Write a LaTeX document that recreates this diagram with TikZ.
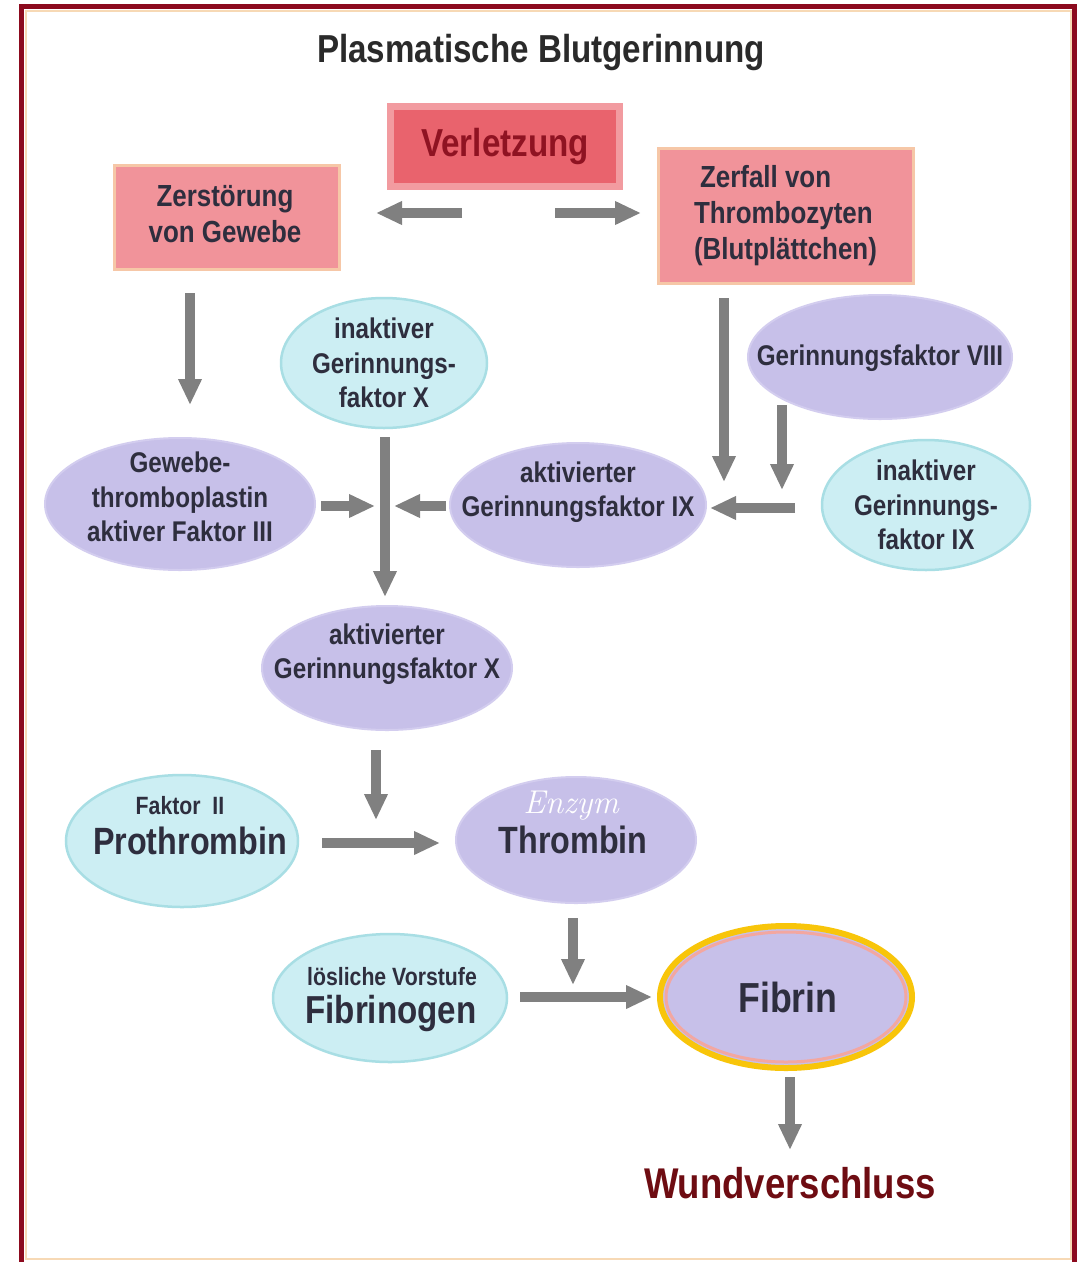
\documentclass[tikz,border=0pt]{standalone}
\usepackage{fontspec}
\setsansfont{Liberation Sans}[FakeStretch=0.85]
\usetikzlibrary{arrows.meta,shapes.geometric}
\definecolor{borderred}{HTML}{8C0A1E}
\definecolor{peach}{HTML}{F7D9B5}
\definecolor{pinkF}{HTML}{F1939A}
\definecolor{pinkB}{HTML}{F6C7A7}
\definecolor{verOuter}{HTML}{F29BA0}
\definecolor{verInner}{HTML}{E9636D}
\definecolor{verText}{HTML}{8F1322}
\definecolor{cyanF}{HTML}{CCEEF3}
\definecolor{cyanB}{HTML}{A8DEE4}
\definecolor{lavF}{HTML}{C7C0E9}
\definecolor{lavB}{HTML}{D3CDEF}
\definecolor{goldring}{HTML}{F8C50A}
\definecolor{fibring}{HTML}{F3A7A0}
\definecolor{arrowgray}{HTML}{808080}
\definecolor{titlec}{HTML}{2A2A2A}
\definecolor{txtc}{HTML}{2E2E3E}
\definecolor{wund}{HTML}{6E0C12}
\begin{document}
\begin{tikzpicture}[x=1pt,y=-1pt,
  arr/.style={draw=arrowgray, line width=10pt, -{Triangle[width=22pt,length=26pt]}},
  cyanell/.style={ellipse, draw=cyanB, fill=cyanF, line width=2.5pt, inner sep=0pt},
  lavell/.style={ellipse, draw=lavB, fill=lavF, line width=2pt, inner sep=0pt},
  pinkbox/.style={rectangle, draw=pinkB, fill=pinkF, line width=3pt, inner sep=0pt,
    text=txtc, font=\sffamily\bfseries\fontsize{30.5}{36}\selectfont},
  txt/.style={font=\sffamily\bfseries\fontsize{28.5}{34.5}\selectfont, text=txtc, align=center, inner sep=0pt},
  bigtxt/.style={font=\sffamily\bfseries\fontsize{38}{42}\selectfont, text=txtc, inner sep=0pt},
  smalltxt/.style={font=\sffamily\bfseries\fontsize{25}{30}\selectfont, text=txtc, inner sep=0pt}
]
\useasboundingbox (0,0) rectangle (1081,1262);
\fill[white] (0,0) rectangle (1081,1262);
% frame
\draw[borderred, line width=5pt] (21.5,1290) -- (21.5,6.5) -- (1074.5,6.5) -- (1074.5,1290);
\draw[peach, line width=2pt] (26,1258.5) -- (26,10.5) -- (1070.5,10.5) -- (1070.5,1258.5) -- cycle;

% title
\node[font=\sffamily\bfseries\fontsize{39}{44}\selectfont, text=titlec, inner sep=0pt] (title) at (541,52) {Plasmatische Blutgerinnung};

% boxes
\node[rectangle, draw=verOuter, fill=verInner, line width=7pt, minimum width=229.5pt, minimum height=80.5pt,
  text=verText, font=\sffamily\bfseries\fontsize{39}{44}\selectfont, inner sep=0pt] (verl) at (505,146.5) {Verletzung};
\node[pinkbox, minimum width=225pt, minimum height=104pt, align=center] (zer) at (226.5,217) {};
\node[pinkbox, fill=none, draw=none, align=center] (zerT) at (225,214) {Zerstörung\\von Gewebe};
\node[pinkbox, minimum width=255pt, minimum height=135pt, align=left] (zerf) at (785.5,215.5) {\hspace{6pt}Zerfall von\\Thrombozyten\\(Blutplättchen)};

% ellipses
\node[cyanell, minimum width=206pt, minimum height=130pt] (ix) at (384,363) {};
\node[lavell, minimum width=264pt, minimum height=124pt] (f8) at (880,357) {};
\node[lavell, minimum width=270pt, minimum height=132pt] (gtp) at (180,504) {};
\node[lavell, minimum width=256pt, minimum height=124pt] (a9) at (578,505) {};
\node[cyanell, minimum width=208pt, minimum height=130pt] (i9) at (926,505) {};
\node[lavell, minimum width=250pt, minimum height=124pt] (ax) at (387,668) {};
\node[cyanell, minimum width=232pt, minimum height=132pt] (pro) at (182,841) {};
\node[lavell, minimum width=240pt, minimum height=126pt] (thr) at (576,840) {};
\node[cyanell, minimum width=234pt, minimum height=128pt] (fgn) at (390,998) {};
\node[ellipse, draw=goldring, fill=lavF, line width=6pt, inner sep=0pt, minimum width=252pt, minimum height=142pt] (fib) at (786,997) {};
\draw[fibring, line width=3pt] (fib.center) ellipse (120 and 65);

% texts
\node[txt] (ixT) at (ix.center) {inaktiver\\Gerinnungs-\\faktor X};
\node[txt] (f8T) at ([yshift=-1pt]f8.center) {Gerinnungsfaktor VIII};
\node[txt] (gtpT) at ([yshift=7pt]gtp.center) {Gewebe-\\thromboplastin\\aktiver Faktor III};
\node[txt] (a9T) at ([yshift=13pt]a9.center) {aktivierter\\Gerinnungsfaktor IX};
\node[txt] (i9T) at (i9.center) {inaktiver\\Gerinnungs-\\faktor IX};
\node[txt] (axT) at ([yshift=14pt]ax.center) {aktivierter\\Gerinnungsfaktor X};
\node[smalltxt] (proT1) at (180,806) {Faktor\ \ II};
\node[bigtxt] (proT2) at (190,841) {Prothrombin};
\node[font=\rmfamily\itshape\fontsize{33}{36}\selectfont, text=white, inner sep=0pt] (thrT1) at (571,806) {Enzym};
\node[bigtxt] (thrT2) at (573,840) {Thrombin};
\node[smalltxt] (fgnT1) at (392,977) {lösliche Vorstufe};
\node[bigtxt, font=\sffamily\bfseries\fontsize{39}{42}\selectfont] (fgnT2) at (391,1013) {Fibrinogen};
\node[font=\sffamily\bfseries\fontsize{42}{46}\selectfont, text=txtc, inner sep=0pt] (fibT) at (788,997) {Fibrin};
\node[font=\sffamily\bfseries\fontsize{43}{48}\selectfont, text=wund, inner sep=0pt] (wund) at (790,1183) {Wundverschluss};

% arrow end points
\coordinate (vL0) at (462,213); \coordinate (vL1) at (376,213);
\coordinate (vR0) at (555,213); \coordinate (vR1) at (641,213);
\coordinate (zD0) at (190,293); \coordinate (zD1) at (190,405);
\coordinate (fD0) at (724,298); \coordinate (fD1) at (724,482);
\coordinate (f8D0) at (782,405); \coordinate (f8D1) at (782,490);
\coordinate (i9L0) at (795,508); \coordinate (i9L1) at (710,508);
\coordinate (vx0) at (385,437); \coordinate (vx1) at (385,597);
\coordinate (gR0) at (321,506); \coordinate (gR1) at (375,506);
\coordinate (a9L0) at (446,506); \coordinate (a9L1) at (394,506);
\coordinate (axD0) at (376,750); \coordinate (axD1) at (376,820);
\coordinate (pR0) at (322,843); \coordinate (pR1) at (440,843);
\coordinate (tD0) at (573,918); \coordinate (tD1) at (573,985);
\coordinate (fgR0) at (520,997); \coordinate (fgR1) at (652,997);
\coordinate (fbD0) at (790,1077); \coordinate (fbD1) at (790,1150);

% arrows
\draw[arr] (vL0) -- (vL1);
\draw[arr] (vR0) -- (vR1);
\draw[arr] (zD0) -- (zD1);
\draw[arr] (fD0) -- (fD1);
\draw[arr] (f8D0) -- (f8D1);
\draw[arr] (i9L0) -- (i9L1);
\draw[arr] (vx0) -- (vx1);
\draw[arr] (gR0) -- (gR1);
\draw[arr] (a9L0) -- (a9L1);
\draw[arr] (axD0) -- (axD1);
\draw[arr] (pR0) -- (pR1);
\draw[arr] (tD0) -- (tD1);
\draw[arr] (fgR0) -- (fgR1);
\draw[arr] (fbD0) -- (fbD1);
\end{tikzpicture}
\end{document}
